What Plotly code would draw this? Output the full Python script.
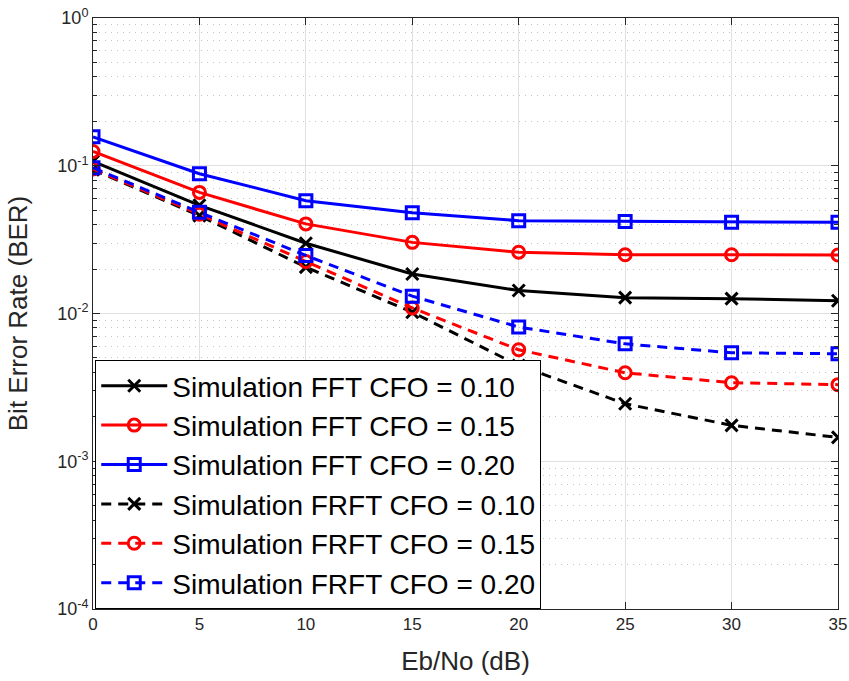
import plotly.graph_objects as go

ebno = [0, 5, 10, 15, 20, 25, 30, 35]

fft_010 = [0.107, 0.054, 0.0299, 0.0185, 0.0143, 0.0128, 0.0126, 0.0122]
fft_015 = [0.125, 0.066, 0.0404, 0.0303, 0.0260, 0.0250, 0.0250, 0.0249]
fft_020 = [0.157, 0.0883, 0.058, 0.048, 0.0425, 0.0420, 0.0414, 0.0414]
frft_010 = [0.094, 0.046, 0.0206, 0.0102, 0.00445, 0.00245, 0.00175, 0.00145]
frft_015 = [0.095, 0.047, 0.0225, 0.0109, 0.00568, 0.00397, 0.0034, 0.0033]
frft_020 = [0.097, 0.0484, 0.0247, 0.0131, 0.0081, 0.00623, 0.00542, 0.00534]

y_tickvals = [1e-4, 1e-3, 1e-2, 1e-1, 1]
y_ticktext = ["10<sup>-4</sup>", "10<sup>-3</sup>", "10<sup>-2</sup>", "10<sup>-1</sup>", "10<sup>0</sup>"]
x_tickvals = [0, 5, 10, 15, 20, 25, 30, 35]

names = [
    "Simulation FFT CFO = 0.10",
    "Simulation FFT CFO = 0.15",
    "Simulation FFT CFO = 0.20",
    "Simulation FRFT CFO = 0.10",
    "Simulation FRFT CFO = 0.15",
    "Simulation FRFT CFO = 0.20",
]
series = [fft_010, fft_015, fft_020, frft_010, frft_015, frft_020]
colors = ["#000000", "#ff0000", "#0000ff", "#000000", "#ff0000", "#0000ff"]
symbols = ["x-thin-open", "circle-open", "square-open", "x-thin-open", "circle-open", "square-open"]
dashes = ["solid", "solid", "solid", "10px,7px", "10px,7px", "10px,7px"]

fig = go.Figure()
for n, s, c, sym, d in zip(names, series, colors, symbols, dashes):
    fig.add_trace(go.Scatter(
        x=ebno, y=s, name=n, mode="lines+markers",
        line=dict(color=c, width=3, dash=d),
        marker=dict(symbol=sym, size=12, color=c, line=dict(color=c, width=3)),
    ))

font = "Liberation Sans, Arial, sans-serif"
fig.update_layout(
    width=849, height=681,
    margin=dict(l=93, r=11, t=18, b=72),
    paper_bgcolor="white", plot_bgcolor="white",
    font=dict(family=font, color="#262626", size=17),
    showlegend=True,
    legend=dict(
        x=0.003, y=0.0, xanchor="left", yanchor="bottom",
        bgcolor="white", bordercolor="#000000", borderwidth=1,
        font=dict(size=28, color="#000000", family=font),
        tracegroupgap=0, itemwidth=66,
    ),
)
fig.update_xaxes(
    range=[0, 35], tickvals=x_tickvals, automargin=False,
    showgrid=True, gridcolor="#e0e0e0", gridwidth=1,
    showline=True, linecolor="#262626", linewidth=1, mirror="allticks",
    ticks="inside", ticklen=7, tickcolor="#262626", ticklabeloverflow="allow",
    title=dict(text="Eb/No (dB)", font=dict(size=26, color="#262626"), standoff=18),
    zeroline=False,
)
fig.update_yaxes(
    type="log", range=[-4, 0], tickvals=y_tickvals, ticktext=y_ticktext, automargin=False,
    tickfont=dict(size=18),
    showgrid=True, gridcolor="#e0e0e0", gridwidth=1,
    showline=True, linecolor="#262626", linewidth=1, mirror="allticks",
    ticks="inside", ticklen=7, tickcolor="#262626",
    minor=dict(dtick="D1", showgrid=True, gridcolor="#c4c4c4", griddash="1px,5px",
               ticks="inside", ticklen=4, tickcolor="#262626"),
    title=dict(text="Bit Error Rate (BER)", font=dict(size=26, color="#262626"), standoff=22),
    zeroline=False,
)

fig.write_html("out.html", config={"displayModeBar": False},
               post_script="document.body.style.margin='0';")
